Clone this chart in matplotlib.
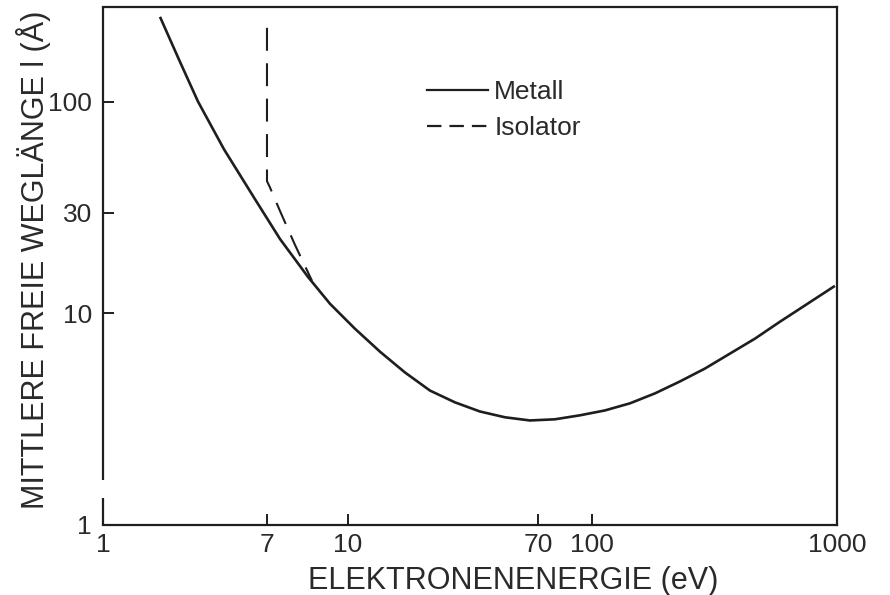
import matplotlib
matplotlib.use("Agg")
import matplotlib.pyplot as plt
from matplotlib.lines import Line2D

# --- data (log-log axes) ---
metall_energy = [1.710, 2.045, 2.445, 3.123, 4.180, 5.289, 6.882, 8.469,
                 10.71, 13.55, 17.15, 21.70, 27.45, 34.73, 43.94, 55.59, 70.35,
                 88.98, 112.6, 142.5, 180.3, 228.0, 288.6, 365.1, 461.8, 584.5,
                 739.4, 980.4]
metall_length = [252.5, 158.4, 100.4, 59.7, 34.7, 22.5, 14.89, 11.11,
                 8.47, 6.60, 5.26, 4.32, 3.80, 3.44, 3.23, 3.12, 3.16,
                 3.30, 3.48, 3.76, 4.19, 4.77, 5.49, 6.46, 7.60, 9.14,
                 10.91, 13.50]

isolator_energy = [4.68, 4.68, 4.81, 5.29, 6.09, 7.15]
isolator_length = [224, 42.2, 39.5, 30.5, 21.1, 14.26]

# tick positions as drawn in the figure (labels as printed)
xtick_pos = [1, 4.68, 10, 60, 100, 1000]
xtick_labels = ["1", "7", "10", "70", "100", "1000"]
ytick_pos = [1, 10, 30, 100]
ytick_labels = ["1", "10", "30", "100"]

series_labels = ["Metall", "Isolator"]
xlabel = "ELEKTRONENENERGIE (eV)"
ylabel = "MITTLERE FREIE WEGLÄNGE l (Å)"

ink = "#1e1e1e"
txt = "#2a2a2a"
label_font = ["Liberation Sans", "DejaVu Sans"]

fig = plt.figure(figsize=(8.9, 5.95), dpi=100)
ax = fig.add_axes([103/890, 1-525/595, (837-103)/890, (525-7)/595])

ax.set_xscale("log")
ax.set_yscale("log")
ax.set_xlim(1, 1000)
ax.set_ylim(1, 281)

ax.plot(metall_energy, metall_length, color=ink, lw=1.9,
        solid_capstyle="butt", solid_joinstyle="round")
ax.plot(isolator_energy, isolator_length, color=ink, lw=1.5,
        dashes=(11, 6), dash_capstyle="butt")

ax.minorticks_off()
ax.set_xticks(xtick_pos)
ax.set_xticklabels(xtick_labels, family=label_font, fontsize=19, color=txt)
ax.set_yticks(ytick_pos)
ax.set_yticklabels(ytick_labels, family=label_font, fontsize=19, color=txt)
ax.tick_params(axis="both", which="major", direction="in", length=8, width=1.4,
               color=ink)
ax.tick_params(axis="x", pad=6)
ax.tick_params(axis="y", pad=8)

for s in ["top", "right", "bottom"]:
    ax.spines[s].set_linewidth(1.6)
    ax.spines[s].set_color(ink)
ax.spines["left"].set_visible(False)
# left axis line drawn with the small break seen in the original
ax.plot([0, 0], [0, 0.052], transform=ax.transAxes, color=ink, lw=1.6,
        clip_on=False, solid_capstyle="butt")
ax.plot([0, 0], [0.087, 1], transform=ax.transAxes, color=ink, lw=1.6,
        clip_on=False, solid_capstyle="butt")

ax.set_xlabel(xlabel, family=label_font, fontsize=22, color=txt)
ax.xaxis.set_label_coords((513-103)/734, -(566-525)/518)
ax.set_ylabel(ylabel, family=label_font, fontsize=22, color=txt)
ax.yaxis.set_label_coords(-(103-51)/734, (525-260)/518)

handles = [Line2D([], [], color=ink, lw=1.6),
           Line2D([], [], color=ink, lw=1.6, dashes=(6.5, 3.6))]
leg = ax.legend(handles, series_labels, loc="center left",
                bbox_to_anchor=((427-103)/734, (525-110)/518),
                frameon=False, borderaxespad=0, borderpad=0,
                handlelength=2.3, handletextpad=0.25, labelspacing=0.45,
                prop={"family": label_font, "size": 19})
for t in leg.get_texts():
    t.set_color(txt)

fig.savefig("out.png", dpi=100)
